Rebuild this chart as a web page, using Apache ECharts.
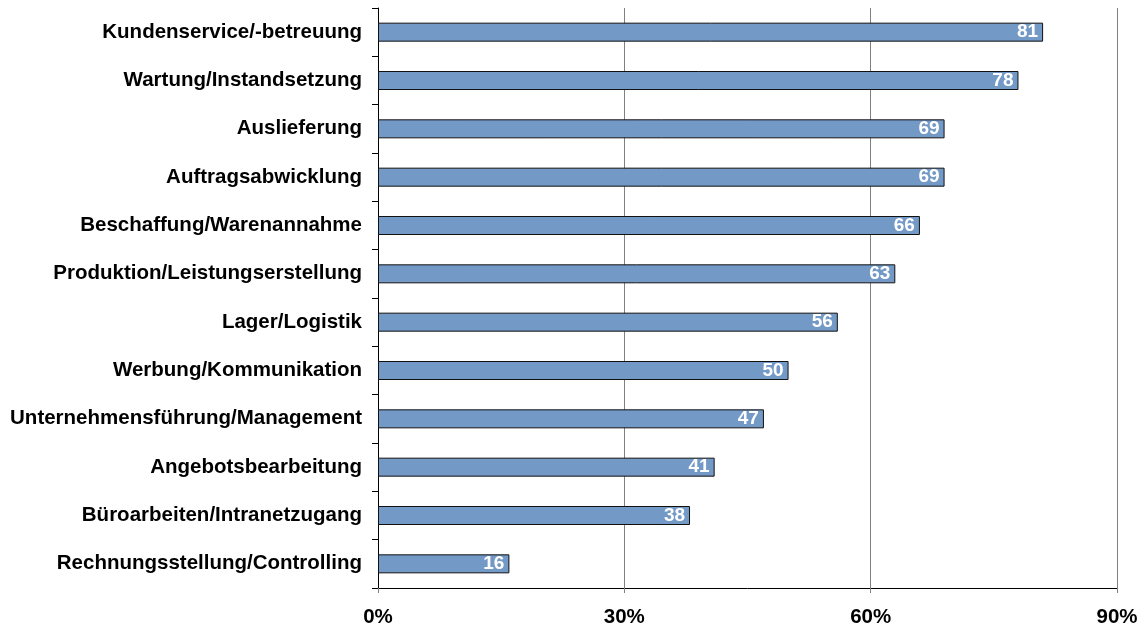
<!DOCTYPE html>
<html><head><meta charset="utf-8">
<script src="https://cdn.jsdelivr.net/npm/echarts@6/dist/echarts.min.js"></script>
<style>html,body{margin:0;padding:0;background:#fff}#c{width:1141px;height:630px}</style>
</head><body><div id="c"></div>
<script>
const categories = ["Kundenservice/-betreuung","Wartung/Instandsetzung","Auslieferung","Auftragsabwicklung","Beschaffung/Warenannahme","Produktion/Leistungserstellung","Lager/Logistik","Werbung/Kommunikation","Unternehmensführung/Management","Angebotsbearbeitung","Büroarbeiten/Intranetzugang","Rechnungsstellung/Controlling"];
const values = [81,78,69,69,66,63,56,50,47,41,38,16];
const xTicks = [0,30,60,90];
const font = 'Liberation Sans, Arial, sans-serif';
const chart = echarts.init(document.getElementById('c'));
chart.setOption({
  animation:false,
  grid:{left:378,right:24,top:8,bottom:42,containLabel:false},
  xAxis:{type:'value',min:xTicks[0],max:xTicks[xTicks.length-1],interval:30,
    axisLine:{show:true,lineStyle:{color:'#000',width:1}},
    axisTick:{show:true,length:5,lineStyle:{color:'#808080'}},
    splitLine:{show:true,lineStyle:{color:'#808080',width:1}},
    axisLabel:{formatter:'{value}%',color:'#000',fontFamily:font,fontWeight:'bold',fontSize:20.5,margin:19}},
  yAxis:{type:'category',inverse:true,data:categories,
    axisLine:{show:true,lineStyle:{color:'#000'}},
    axisTick:{show:true,length:6,lineStyle:{color:'#000'}},
    axisLabel:{color:'#000',fontFamily:font,fontWeight:'bold',fontSize:20.5,margin:16}},
  series:[{type:'bar',data:values,barWidth:19,
    itemStyle:{color:'#7399C6',borderColor:'#111',borderWidth:1},
    label:{show:true,position:'insideRight',distance:5,color:'#fff',fontFamily:font,fontWeight:'bold',fontSize:19}}]
});
</script></body></html>
